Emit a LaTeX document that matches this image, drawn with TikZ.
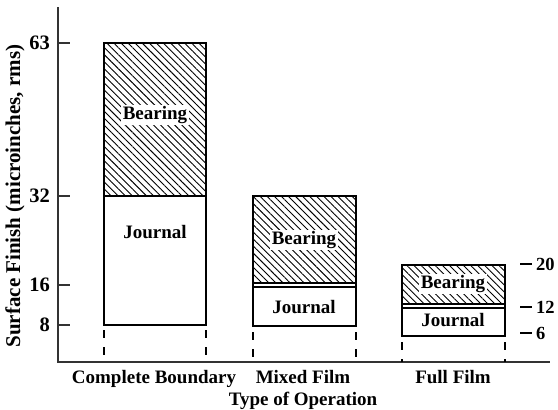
\documentclass[tikz,border=0pt]{standalone}
\usepackage{fontspec}
\setmainfont{Liberation Serif}
\usetikzlibrary{patterns.meta}
\begin{document}
\begin{tikzpicture}[x=1pt,y=-1pt,
  axisline/.style={line width=1.3pt,draw=black!80},
  barline/.style={line width=1.5pt},
  hatch/.style={pattern={Lines[angle=-45,distance=5pt,line width=0.9pt]}},
  guide/.style={line width=1.3pt,dash pattern=on 8pt off 9pt},
  lab/.style={font=\fontsize{19}{22}\selectfont\bfseries,inner sep=0pt},
  inlab/.style={lab,fill=white,inner sep=1.5pt},
  rlab/.style={font=\fontsize{18.5}{22}\selectfont\bfseries,inner sep=0pt,anchor=west},
  ticklab/.style={font=\fontsize{20.5}{24}\selectfont\bfseries,inner sep=0pt,anchor=east}]
\useasboundingbox (0,0) rectangle (558,410);
% axes
\coordinate (o) at (58,362);
\coordinate (ytop) at (58,7);
\coordinate (xend) at (550,362);
\draw[axisline] (ytop) -- (o) -- (xend);
% y ticks
\foreach \v/\y in {63/43,32/196,16/285,8/325}{
  \coordinate (t\v) at (58,\y);
  \draw[axisline] (t\v) -- ++(12,0);
  \node[ticklab] (tl\v) at (50,\y) {\v};
}
% bar 1
\fill[hatch] (104,43) rectangle (206,196);
\draw[barline] (104,43) rectangle (206,325);
\draw[barline] (104,196) -- (206,196);
% bar 2
\fill[hatch] (253,196) rectangle (356,283);
\draw[barline] (253,196) rectangle (356,326);
\draw[line width=1.2pt] (253,283) -- (356,283);
\draw[line width=1.2pt] (253,287) -- (356,287);
% bar 3
\fill[hatch] (402,265) rectangle (505,304);
\draw[barline] (402,265) rectangle (505,336);
\draw[line width=1.2pt] (402,304) -- (505,304);
\draw[line width=1.2pt] (402,308) -- (505,308);
% guides
\foreach \x/\y in {104/330,206/330,253/332,356/332,402/342,505/342}{
  \draw[guide] (\x,\y) -- (\x,362);
}
% labels in bars
\node[inlab] (b1) at (155,115) {Bearing};
\node[lab] (j1) at (155,232) {Journal};
\node[inlab] (b2) at (304,240) {Bearing};
\node[lab] (j2) at (304,307) {Journal};
\node[inlab] (b3) at (453,284) {Bearing};
\node[lab] (j3) at (453,320) {Journal};
% right scale
\foreach \v/\y in {20/264,12/307,6/333}{
  \draw[line width=1.3pt] (520,\y) -- (532,\y);
  \node[rlab] (r\v) at (536,\y) {\v};
}
% x labels
\node[lab] (c1) at (154,379) {Complete Boundary};
\node[lab] (c2) at (303,377) {Mixed Film};
\node[lab] (c3) at (453,377) {Full Film};
\node[lab] (xl) at (303,401) {Type of Operation};
\node[font=\fontsize{21}{24}\selectfont\bfseries,inner sep=0pt,rotate=90] (yl) at (15,196) {Surface Finish (microinches, rms)};
\end{tikzpicture}
\end{document}
